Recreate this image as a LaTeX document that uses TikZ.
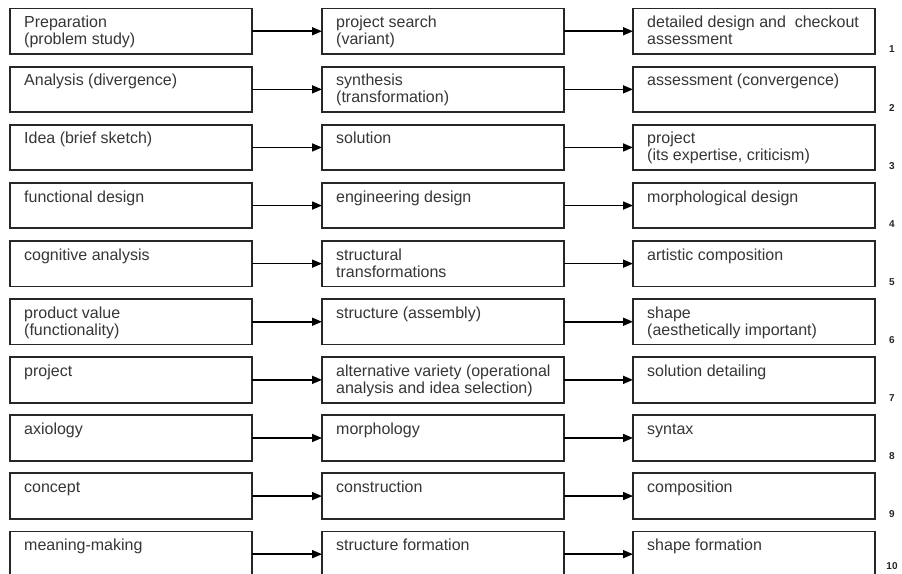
\documentclass[tikz,border=0pt]{standalone}
\usepackage{fontspec}
\setmainfont{Liberation Sans}
\usetikzlibrary{arrows.meta}
\definecolor{txtgray}{HTML}{363636}
\newcommand{\celltxt}[1]{\parbox[t]{225pt}{\rule{0pt}{12pt}#1}}
\newcommand{\drawrow}[4]{%
  \pgfmathsetmacro{\ry}{8.5+58.1*(#1-1)}%
  \pgfmathsetmacro{\ny}{min(\ry+41,566)}%
  \node[cell] (r#1c1) at (10,\ry) {};
  \node[cell] (r#1c2) at (322,\ry) {};
  \node[cell] (r#1c3) at (633,\ry) {};
  \node[lab] (t#1c1) at ([shift={(14,7)}]r#1c1.north west) {\celltxt{#2}};
  \node[lab] (t#1c2) at ([shift={(14,7)}]r#1c2.north west) {\celltxt{#3}};
  \node[lab] (t#1c3) at ([shift={(14,7)}]r#1c3.north west) {\celltxt{#4}};
  \draw[arr] (r#1c1) -- (r#1c2);
  \draw[arr] (r#1c2) -- (r#1c3);
  \node[num] (n#1) at (892,\ny) {#1};
}
\begin{document}
\begin{tikzpicture}[x=1pt,y=-1pt,
  cell/.style={draw=black!85, line width=1.8pt, anchor=north west, inner sep=0pt, outer sep=0pt,
    minimum width=242pt, minimum height=45.5pt},
  lab/.style={anchor=north west, inner sep=0pt, text=txtgray, font=\fontsize{16}{17}\selectfont},
  arr/.style={line width=1.6pt, -{Triangle[length=10pt,width=8pt]}},
  num/.style={inner sep=0pt, font=\fontsize{10}{10}\selectfont\bfseries, text=black!85}]
\useasboundingbox (0,0) rectangle (902,573);
\fill[white] (0,0) rectangle (902,573);
\drawrow{1}{Preparation\\(problem study)}{project search\\(variant)}{detailed design and\ \ checkout\\assessment}
\drawrow{2}{Analysis (divergence)}{synthesis\\(transformation)}{assessment (convergence)}
\drawrow{3}{Idea (brief sketch)}{solution}{project\\(its expertise, criticism)}
\drawrow{4}{functional design}{engineering design}{morphological design}
\drawrow{5}{cognitive analysis}{structural\\transformations}{artistic composition}
\drawrow{6}{product value\\(functionality)}{structure (assembly)}{shape\\(aesthetically important)}
\drawrow{7}{project}{alternative variety (operational\\analysis and idea selection)}{solution detailing}
\drawrow{8}{axiology}{morphology}{syntax}
\drawrow{9}{concept}{construction}{composition}
\drawrow{10}{meaning-making}{structure formation}{shape formation}
\end{tikzpicture}
\end{document}
